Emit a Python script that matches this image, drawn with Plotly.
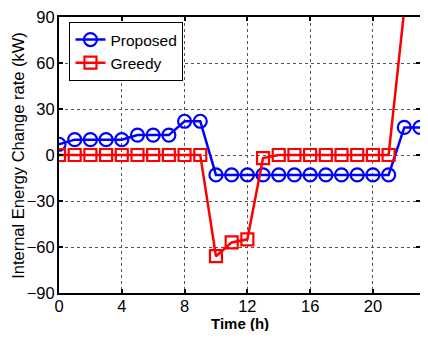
import plotly.graph_objects as go

hours = list(range(24))
proposed = [7, 10, 10, 10, 10, 13, 13, 13, 22, 22,
            -13, -13, -13, -13, -13, -13, -13, -13, -13, -13, -13, -13,
            18, 18]
greedy_hours = list(range(23))
greedy = [0, 0, 0, 0, 0, 0, 0, 0, 0, 0,
          -66, -57, -55, -2, 0, 0, 0, 0, 0, 0, 0, 0,
          95]

x_ticks = [0, 4, 8, 12, 16, 20]
y_ticks = [-90, -60, -30, 0, 30, 60, 90]

FONT = "Liberation Sans, Arial"

fig = go.Figure()
fig.add_trace(go.Scatter(
    x=hours, y=proposed, name="Proposed", mode="lines+markers",
    line=dict(color="#0000ff", width=2.5),
    marker=dict(symbol="circle-open", size=13, color="#0000ff", line=dict(width=2.2)),
))
fig.add_trace(go.Scatter(
    x=greedy_hours, y=greedy, name="Greedy", mode="lines+markers",
    line=dict(color="#ff0000", width=2.5),
    marker=dict(symbol="square-open", size=12, color="#ff0000", line=dict(width=2.2)),
))

axis_common = dict(
    showline=True, linecolor="black", linewidth=2, mirror="ticks",
    ticks="inside", ticklen=4, tickwidth=1.5, tickcolor="black",
    showgrid=True, gridcolor="#555555", griddash="dot", gridwidth=1,
    zeroline=False, automargin=False, ticklabeloverflow="allow",
    tickfont=dict(family=FONT, size=16.5, color="black"),
)
fig.update_xaxes(range=[0, 23], tickvals=x_ticks, ticklabelstandoff=-3, **axis_common)
fig.update_yaxes(range=[-90, 90], tickvals=y_ticks, ticklabelstandoff=-1, **axis_common)

fig.add_annotation(text="<b>Time (h)</b>", xref="paper", yref="paper",
                   x=0.5, y=-0.111, xanchor="center", yanchor="middle",
                   showarrow=False, font=dict(family=FONT, size=15, color="black"))
fig.add_annotation(text="Internal Energy Change rate (kW)", xref="paper", yref="paper",
                   x=-0.114, y=0.5, xanchor="center", yanchor="middle", textangle=-90,
                   showarrow=False, font=dict(family=FONT, size=16.5, color="black"))

fig.update_layout(
    width=412, height=323,
    margin=dict(l=50.5, r=0, t=9, b=38),
    plot_bgcolor="white", paper_bgcolor="white",
    legend=dict(x=0.029, y=0.982, xanchor="left", yanchor="top",
                bgcolor="white", bordercolor="black", borderwidth=1,
                font=dict(family=FONT, size=15.5, color="black"),
                tracegroupgap=0, itemwidth=30),
    showlegend=True,
)
fig.write_html("out.html")
